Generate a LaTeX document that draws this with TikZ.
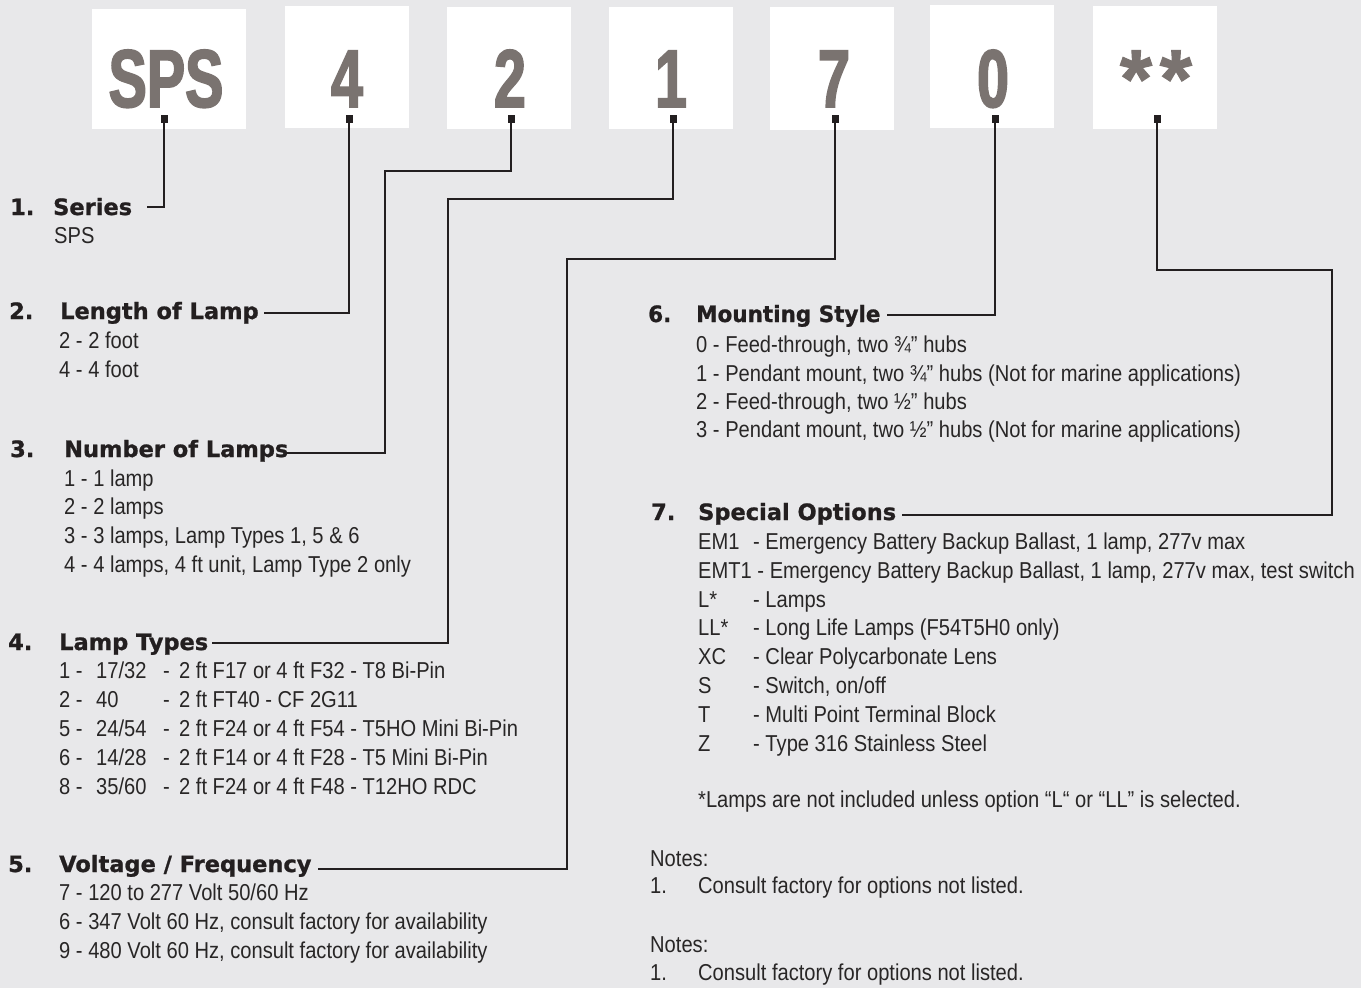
\documentclass[tikz,border=0pt]{standalone}
\usepackage{fontspec}
\setmainfont{Liberation Sans}
\newfontfamily\bodyfont[FakeStretch=0.875]{Liberation Sans}
\newfontfamily\headfont[FakeBold=1]{DejaVu Sans}
\newfontfamily\headfontR[FakeBold=1,FakeStretch=0.955]{DejaVu Sans}
\newfontfamily\boxfont[FakeStretch=0.7,FakeBold=2]{Liberation Sans}
\newfontfamily\starfont[FakeBold=1.5]{Liberation Sans}
\definecolor{bg}{RGB}{232,232,234}
\definecolor{ink}{RGB}{35,31,32}
\definecolor{boxtxt}{RGB}{122,115,112}
\definecolor{bodytxt}{RGB}{40,38,38}
\tikzset{
  codebox/.style={fill=white, draw=none, inner sep=0pt, minimum width=124pt, minimum height=122pt},
  boxlabel/.style={anchor=base, inner sep=0pt, text=boxtxt, font=\boxfont\bfseries\fontsize{82}{82}\selectfont},
  starlabel/.style={anchor=base, inner sep=0pt, text=boxtxt, font=\starfont\bfseries\fontsize{82}{82}\selectfont},
  pin/.style={fill=ink, draw=none, inner sep=0pt, minimum width=7pt, minimum height=8pt},
  conn/.style={draw=ink, line width=2pt},
  head/.style={anchor=base west, inner sep=0pt, text=ink, font=\headfont\bfseries\fontsize{22.5}{27}\selectfont},
  headR/.style={anchor=base west, inner sep=0pt, text=ink, font=\headfontR\bfseries\fontsize{22.5}{27}\selectfont},
  body/.style={anchor=base west, inner sep=0pt, text=bodytxt, font=\bodyfont\fontsize{23}{27}\selectfont}
}
\newcommand{\lt}[4]{\makebox[37pt][l]{#1}\makebox[67pt][l]{#2}\makebox[16pt][l]{-}#4}
\newcommand{\opt}[2]{\makebox[55pt][l]{#1}#2}
\begin{document}
\begin{tikzpicture}[x=1pt,y=-1pt]
\fill[bg] (0,0) rectangle (1361,988);
\useasboundingbox (0,0) rectangle (1361,988);

% code boxes
\node[codebox, minimum width=154pt, minimum height=120pt] (bS) at (169,69) {};
\node[codebox] (b4) at (347,67) {};
\node[codebox] (b2) at (508.5,68) {};
\node[codebox] (b1) at (671,68) {};
\node[codebox, minimum height=123pt] (b7) at (832,68.5) {};
\node[codebox, minimum height=123pt] (b0) at (992,66.5) {};
\node[codebox, minimum height=123pt] (bX) at (1155,67.5) {};

\node[boxlabel] (tS) at (166,107) {SPS};
\node[boxlabel] (t4) at (347,107) {4};
\node[boxlabel] (t2) at (510,107) {2};
\node[boxlabel] (t1) at (671,107) {1};
\node[boxlabel] (t7) at (834,107) {7};
\node[boxlabel] (t0) at (993,107) {0};
\node[starlabel] (tX) at (1156,107) {*\kern8pt*};

\node[pin] (dS) at (164,118.5) {};
\node[pin] (d4) at (349,118.5) {};
\node[pin] (d2) at (511,118.5) {};
\node[pin] (d1) at (673,118.5) {};
\node[pin] (d7) at (835,118.5) {};
\node[pin] (d0) at (995,118.5) {};
\node[pin] (dX) at (1157,118.5) {};

% connector ends and corners
\coordinate (e1) at (147,207);
\coordinate (e2) at (264,313);
\coordinate (k3) at (385,171);
\coordinate (e3) at (287,453);
\coordinate (k4) at (448,199);
\coordinate (e4) at (212,643);
\coordinate (k5) at (567,259);
\coordinate (e5) at (318,869);
\coordinate (e6) at (887,315);
\coordinate (k7) at (1332,270);
\coordinate (e7) at (902,515);

\draw[conn] (dS.south) |- (e1);
\draw[conn] (d4.south) |- (e2);
\draw[conn] (d2.south) |- (k3) |- (e3);
\draw[conn] (d1.south) |- (k4) |- (e4);
\draw[conn] (d7.south) |- (k5) |- (e5);
\draw[conn] (d0.south) |- (e6);
\draw[conn] (dX.south) |- (k7) |- (e7);

% left column
\node[head] (n1) at (10,215) {1.};
\node[head] (h1) at (53,215) {Series};
\node[body] (s1a) at (54,243) {SPS};

\node[head] (n2) at (9,319) {2.};
\node[head] (h2) at (60,319) {Length of Lamp};
\node[body] (s2a) at (59,348) {2 - 2 foot};
\node[body] (s2b) at (59,377) {4 - 4 foot};

\node[head] (n3) at (10,457) {3.};
\node[head] (h3) at (64,457) {Number of Lamps};
\node[body] (s3a) at (64,486) {1 - 1 lamp};
\node[body] (s3b) at (64,514.5) {2 - 2 lamps};
\node[body] (s3c) at (64,543) {3 - 3 lamps, Lamp Types 1, 5 \& 6};
\node[body] (s3d) at (64,572) {4 - 4 lamps, 4 ft unit, Lamp Type 2 only};

\node[head] (n4) at (8,650) {4.};
\node[head] (h4) at (59,650) {Lamp Types};
\node[body] (s4a) at (59,678) {\lt{1 -}{17/32}{-}{2 ft F17 or 4 ft F32 - T8 Bi-Pin}};
\node[body] (s4b) at (59,707) {\lt{2 -}{40}{-}{2 ft FT40 - CF 2G11}};
\node[body] (s4c) at (59,736) {\lt{5 -}{24/54}{-}{2 ft F24 or 4 ft F54 - T5HO Mini Bi-Pin}};
\node[body] (s4d) at (59,765) {\lt{6 -}{14/28}{-}{2 ft F14 or 4 ft F28 - T5 Mini Bi-Pin}};
\node[body] (s4e) at (59,794) {\lt{8 -}{35/60}{-}{2 ft F24 or 4 ft F48 - T12HO RDC}};

\node[head] (n5) at (8,872) {5.};
\node[head] (h5) at (59,872) {Voltage / Frequency};
\node[body] (s5a) at (59,900) {7 - 120 to 277 Volt 50/60 Hz};
\node[body] (s5b) at (59,929) {6 - 347 Volt 60 Hz, consult factory for availability};
\node[body] (s5c) at (59,958) {9 - 480 Volt 60 Hz, consult factory for availability};

% right column
\node[headR] (n6) at (648,322) {6.};
\node[headR] (h6) at (696,322) {Mounting Style};
\node[body] (s6a) at (696,352) {0 - Feed-through, two ¾” hubs};
\node[body] (s6b) at (696,381) {1 - Pendant mount, two ¾” hubs (Not for marine applications)};
\node[body] (s6c) at (696,409) {2 - Feed-through, two ½” hubs};
\node[body] (s6d) at (696,437) {3 - Pendant mount, two ½” hubs (Not for marine applications)};

\node[head] (n7) at (651,520) {7.};
\node[head] (h7) at (698,520) {Special Options};
\node[body] (s7a) at (698,549) {\opt{EM1}{- Emergency Battery Backup Ballast, 1 lamp, 277v max}};
\node[body] (s7b) at (698,578) {EMT1 - Emergency Battery Backup Ballast, 1 lamp, 277v max, test switch};
\node[body] (s7c) at (698,607) {\opt{L*}{- Lamps}};
\node[body] (s7d) at (698,635) {\opt{LL*}{- Long Life Lamps (F54T5H0 only)}};
\node[body] (s7e) at (698,664) {\opt{XC}{- Clear Polycarbonate Lens}};
\node[body] (s7f) at (698,693) {\opt{S}{- Switch, on/off}};
\node[body] (s7g) at (698,722) {\opt{T}{- Multi Point Terminal Block}};
\node[body] (s7h) at (698,751) {\opt{Z}{- Type 316 Stainless Steel}};
\node[body] (s7n) at (698,807) {*Lamps are not included unless option “L“ or “LL” is selected.};

\node[body] (nt1) at (650,866) {Notes:};
\node[body] (nt1a) at (650,893) {\makebox[48pt][l]{1.}Consult factory for options not listed.};
\node[body] (nt2) at (650,952) {Notes:};
\node[body] (nt2a) at (650,980) {\makebox[48pt][l]{1.}Consult factory for options not listed.};
\end{tikzpicture}
\end{document}
